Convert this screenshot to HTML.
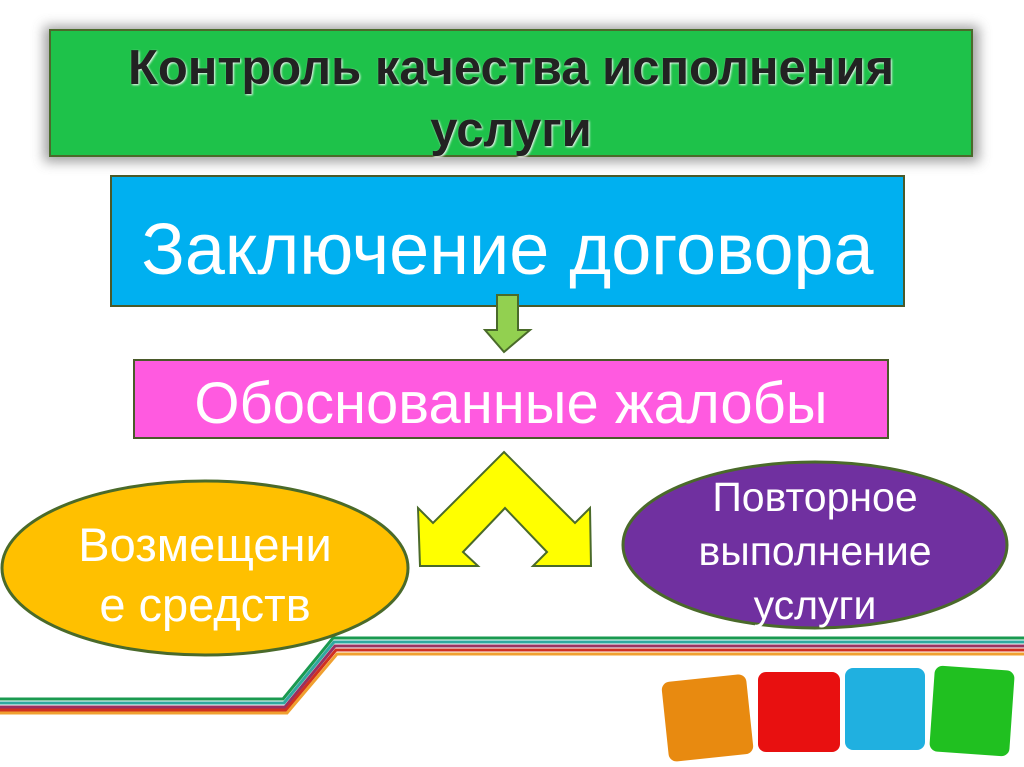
<!DOCTYPE html><html><head><meta charset="utf-8"><style>
body{margin:0;width:1024px;height:767px;background:#fff;position:relative;overflow:hidden;font-family:"Liberation Sans","DejaVu Sans",sans-serif}
.t{position:absolute;text-align:center;color:#fff;white-space:nowrap}
</style></head><body>
<svg width="1024" height="767" style="position:absolute;left:0;top:0">
<defs><filter id="g" x="-10%" y="-30%" width="120%" height="160%"><feGaussianBlur stdDeviation="6"/></filter></defs>
<rect x="44" y="26" width="935" height="136" fill="#888" filter="url(#g)" opacity=".8"/>
<rect x="50" y="30" width="922" height="126" fill="#1ec24a" stroke="#4a6a2a" stroke-width="2"/>
<rect x="111" y="176" width="793" height="130" fill="#00b0f0" stroke="#4a5a2a" stroke-width="2"/>
<rect x="134" y="360" width="754" height="78" fill="#ff5ae0" stroke="#4a5a2a" stroke-width="2"/>
<polygon points="497,295 518,295 518,330 530,330 504,352 485,330 497,330" fill="#92d050" stroke="#4a6a2a" stroke-width="2"/>
<polygon points="504,452 575,523 590,508 591,566 533,566 547,552 505,508 463,552 478,566 420,566 418,508 433,523" fill="#ffff00" stroke="#4a6a2a" stroke-width="2"/>
<g fill="none" stroke-width="3">
<polyline points="0,699 283,699 333,638 1024,638" stroke="#1a9a50"/>
<polyline points="0,703 284,703 334,642 1024,642" stroke="#30a8a0"/>
<polyline points="0,707 285,707 335,646 1024,646" stroke="#9a3060"/>
<polyline points="0,710 286,710 336,650 1024,650" stroke="#d03020"/>
<polyline points="0,713 287,713 337,654 1024,654" stroke="#f0a030"/>
</g>
<ellipse cx="205" cy="568" rx="203" ry="87" fill="#ffc000" stroke="#4a6a2a" stroke-width="3"/>
<ellipse cx="815" cy="545" rx="192" ry="83" fill="#7030a0" stroke="#4a6a2a" stroke-width="3"/>
<rect x="665" y="678" width="85" height="80" rx="8" fill="#e88a10" transform="rotate(-6 707 718)"/>
<rect x="758" y="672" width="82" height="80" rx="8" fill="#e81010"/>
<rect x="845" y="668" width="80" height="82" rx="8" fill="#20b0e0"/>
<rect x="932" y="668" width="80" height="86" rx="8" fill="#20c020" transform="rotate(4 972 711)"/>
</svg>
<div class="t" style="left:50px;top:37px;width:922px;font-size:49px;font-weight:bold;line-height:62px;color:#222;text-shadow:1px 1px 2px #fff">Контроль качества исполнения<br>услуги</div>
<div class="t" style="left:111px;top:208px;width:793px;font-size:72px;line-height:84px">Заключение договора</div>
<div class="t" style="left:134px;top:370px;width:754px;font-size:58px;line-height:68px">Обоснованные жалобы</div>
<div class="t" style="left:20px;top:515px;width:370px;font-size:47px;line-height:60px">Возмещени<br>е средств</div>
<div class="t" style="left:620px;top:470px;width:390px;font-size:41px;line-height:54px">Повторное<br>выполнение<br>услуги</div>
</body></html>
